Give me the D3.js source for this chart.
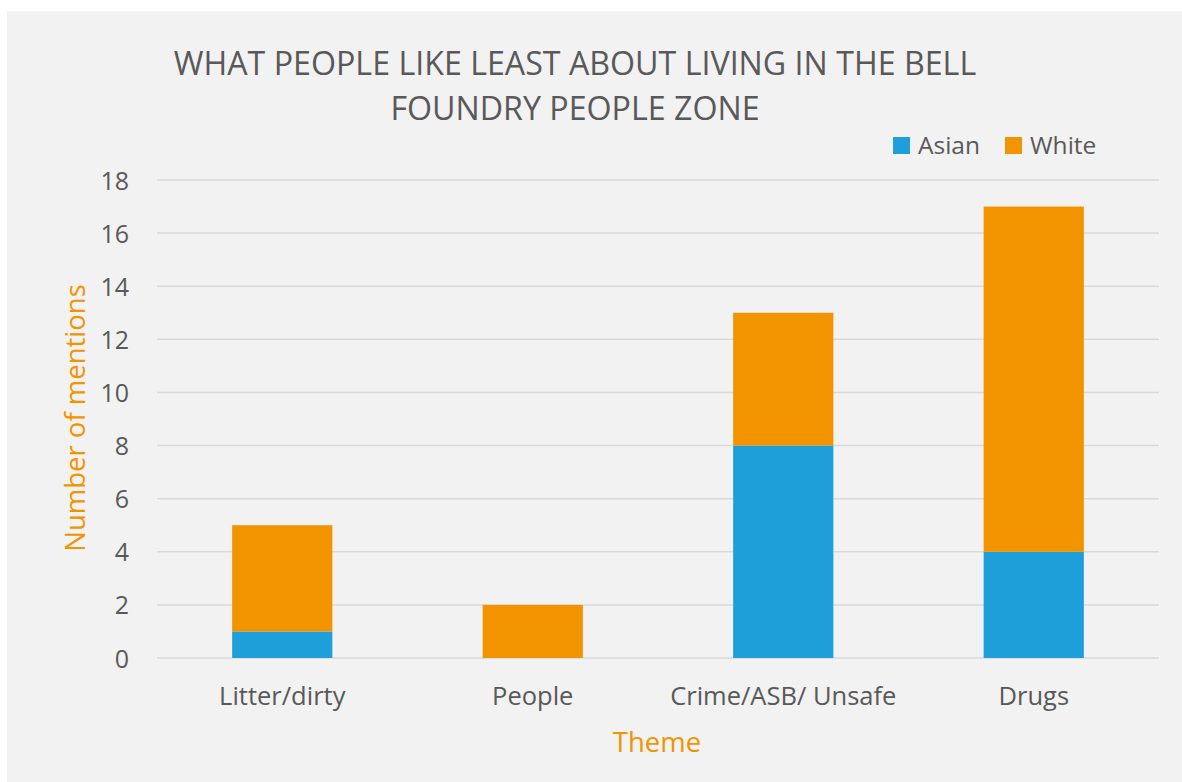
<!DOCTYPE html>
<html><head><meta charset="utf-8">
<script src="https://cdn.jsdelivr.net/npm/d3@7"></script>
<style>body{margin:0;background:#fff;} svg{display:block;} text{font-family:"Open Sans",sans-serif;}</style>
</head><body>
<svg id="c" width="1182" height="782"></svg>
<script>
const categories = ["Litter/dirty","People","Crime/ASB/ Unsafe","Drugs"];
const asian = [1,0,8,4];
const white = [4,2,5,13];
const seriesNames = ["Asian","White"];
const seriesColors = ["#1f9fda","#f29400"];
const yTicks = [0,2,4,6,8,10,12,14,16,18];
const titleLines = ["WHAT PEOPLE LIKE LEAST ABOUT LIVING IN THE BELL","FOUNDRY PEOPLE ZONE"];

const svg = d3.select("#c");
svg.append("rect").attr("x",7).attr("y",11).attr("width",1175).attr("height",771).attr("fill","#f2f2f2");

const m = {l:157, r:1159, t:180, b:658};
const x = d3.scaleBand().domain(categories).range([m.l,m.r]).paddingInner(0.6).paddingOuter(0.3);
const y = d3.scaleLinear().domain([0,18]).range([m.b,m.t]);

const grid = svg.append("g");
grid.selectAll("line").data(yTicks).join("line")
  .attr("x1",m.l).attr("x2",m.r).attr("y1",d=>y(d)).attr("y2",d=>y(d))
  .attr("stroke","#d9d9d9").attr("stroke-width",1.5);

const data = categories.map((c,i)=>({cat:c, Asian:asian[i], White:white[i]}));
const stack = d3.stack().keys(seriesNames)(data);
svg.append("g").selectAll("g").data(stack).join("g")
  .attr("fill",(d,i)=>seriesColors[i])
  .selectAll("rect").data(d=>d).join("rect")
  .attr("x",d=>x(d.data.cat)).attr("width",x.bandwidth())
  .attr("y",d=>y(d[1])).attr("height",d=>y(d[0])-y(d[1]));

// y axis labels
const yAxis = svg.append("g").attr("transform",`translate(${m.l-28},0)`)
  .call(d3.axisLeft(y).tickValues(yTicks).tickSize(0).tickPadding(0));
yAxis.select(".domain").remove();
yAxis.selectAll("text").attr("font-size",25).attr("fill","#595959").attr("font-family","Open Sans, sans-serif").attr("dy","0.36em");

// x axis labels
const xAxis = svg.append("g").attr("transform",`translate(0,${m.b})`)
  .call(d3.axisBottom(x).tickSize(0).tickPadding(0));
xAxis.select(".domain").remove();
xAxis.selectAll("text").attr("font-size",25.5).attr("fill","#595959").attr("font-family","Open Sans, sans-serif").attr("dy",null).attr("y",47);

// title
svg.append("g").selectAll("text").data(titleLines).join("text")
  .attr("x",575).attr("y",(d,i)=>75+i*45).attr("text-anchor","middle")
  .attr("font-size",32.2).attr("fill","#595959").text(d=>d);

// axis titles
svg.append("text").attr("transform","translate(85,418) rotate(-90)").attr("text-anchor","middle")
  .attr("font-size",27.5).attr("fill","#f29400").text("Number of mentions");
svg.append("text").attr("x",657).attr("y",752).attr("text-anchor","middle")
  .attr("font-size",27.5).attr("fill","#f29400").text("Theme");

// legend
const lg = svg.append("g");
const lx = [893,1005];
seriesNames.forEach((s,i)=>{
  lg.append("rect").attr("x",lx[i]).attr("y",137).attr("width",17).attr("height",17).attr("fill",seriesColors[i]);
  lg.append("text").attr("x",lx[i]+25).attr("y",154).attr("font-size",24.5).attr("fill","#595959").text(s);
});
</script>
</body></html>
